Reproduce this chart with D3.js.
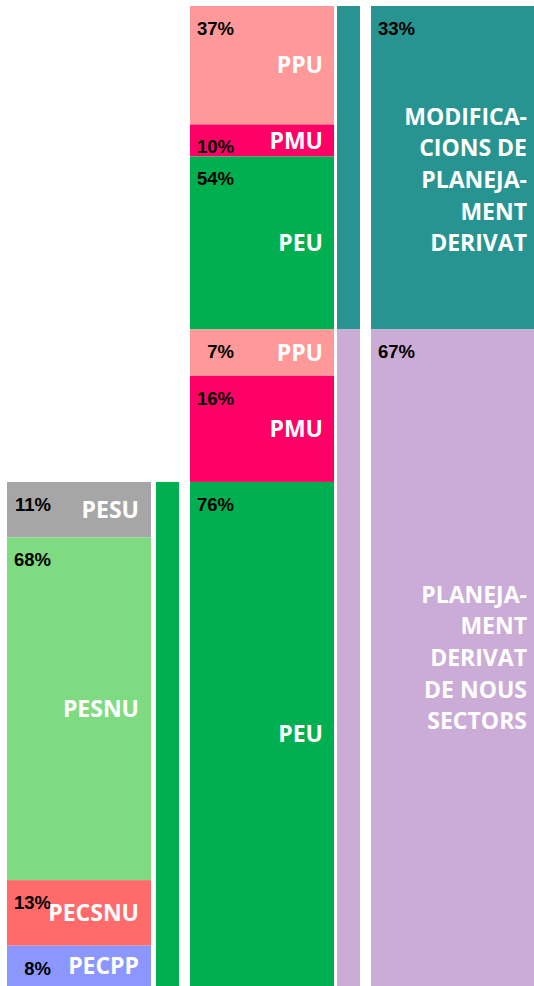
<!DOCTYPE html>
<html>
<head>
<meta charset="utf-8">
<script src="https://cdn.jsdelivr.net/npm/d3@7"></script>
<style>
body { margin:0; background:#fff; }
svg { display:block; }
</style>
</head>
<body>
<svg id="drawing_region"></svg>
<script>
// level 0: type of derived planning
const planCats = ["MOD", "NOUS"];
const planLabels = [["MODIFICA-", "CIONS DE", "PLANEJA-", "MENT", "DERIVAT"],
                    ["PLANEJA-", "MENT", "DERIVAT", "DE NOUS", "SECTORS"]];
const planShare = [33, 67];

// level 1: split of each group
const subCats = ["PPU", "PMU", "PEU"];
const modValues = [37, 10, 54];
const nousValues = [7, 16, 76];

// level 2: split of PEU (nous sectors)
const peuCats = ["PESU", "PESNU", "PECSNU", "PECPP"];
const peuValues = [11, 68, 13, 8];

const colors = {
  MOD: "#279491", NOUS: "#CBACD6",
  PPU: "#FF9999", PMU: "#FF0066", PEU: "#00B050",
  PESU: "#A6A6A6", PESNU: "#7FDB82", PECSNU: "#FF6B6B", PECPP: "#8B97FF"
};

const config = { width: 534, height: 986, top: 6, bottom: 986 };
const cols = {
  l2: [7, 151], l2bar: [156, 179],
  l1: [190, 334], l0bar: [337, 360],
  l0: [371, 534]
};

const svg = d3.select("#drawing_region")
  .attr("width", config.width)
  .attr("height", config.height);

function segments(cats, values, scale) {
  const cum = [0, ...d3.cumsum(values)];
  return cats.map((c, i) => ({
    cat: c, value: values[i],
    y0: scale(cum[i]), y1: scale(cum[i + 1])
  }));
}

const yscale = d3.scaleLinear()
  .domain([0, d3.sum(planShare)])
  .range([config.top, config.bottom]);
const level0 = segments(planCats, planShare, yscale);
level0.forEach((d, i) => d.lines = planLabels[i]);

let level1 = [];
[modValues, nousValues].forEach((vals, i) => {
  const g = level0[i];
  const s = d3.scaleLinear().domain([0, d3.sum(vals)]).range([g.y0, g.y1]);
  level1 = level1.concat(segments(subCats, vals, s));
});

const peuSeg = level1[5];
const s2 = d3.scaleLinear().domain([0, d3.sum(peuValues)]).range([peuSeg.y0, peuSeg.y1]);
const level2 = segments(peuCats, peuValues, s2);

function drawColumn(data, col, opts) {
  const g = svg.append("g");
  g.selectAll("rect")
    .data(data)
    .enter()
    .append("rect")
    .attr("x", col[0])
    .attr("width", col[1] - col[0])
    .attr("y", d => d.y0)
    .attr("height", d => d.y1 - d.y0)
    .attr("fill", d => colors[d.cat]);
  if (!opts) return;

  g.selectAll("text.pct")
    .data(data)
    .enter()
    .append("text")
    .attr("class", "pct")
    .attr("x", col[0] + 44)
    .attr("y", d => d.y0 + 29)
    .attr("text-anchor", "end")
    .attr("font-family", "Liberation Sans, Arial, sans-serif")
    .attr("font-weight", "bold")
    .attr("font-size", 18.5)
    .attr("fill", "#000")
    .text(d => d.value + "%");

  const lh = 31.7;
  const lab = g.selectAll("text.lab")
    .data(data)
    .enter()
    .append("text")
    .attr("class", "lab")
    .attr("text-anchor", "end")
    .attr("font-family", "Open Sans, sans-serif")
    .attr("font-weight", "bold")
    .attr("font-size", 23)
    .attr("fill", "#fff");
  lab.each(function(d, i) {
    const lines = d.lines || [d.cat];
    const mid = (d.y0 + d.y1) / 2 + (opts.shift ? opts.shift[i] : 0);
    const first = mid - (lines.length - 1) / 2 * lh + 8.2;
    d3.select(this).selectAll("tspan")
      .data(lines)
      .enter()
      .append("tspan")
      .attr("x", col[1] - opts.right)
      .attr("y", (t, j) => first + j * lh)
      .text(t => t);
  });
}

drawColumn(level2, cols.l2, { right: 12 });
drawColumn([peuSeg], cols.l2bar, null);
drawColumn(level1, cols.l1, { right: 11 });
drawColumn(level0, cols.l0bar, null);
drawColumn(level0, cols.l0, { right: 7, shift: [12, 0] });
</script>
</body>
</html>
